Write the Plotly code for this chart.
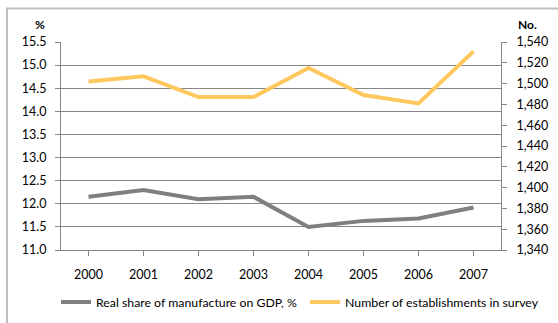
import plotly.graph_objects as go

years = ["2000", "2001", "2002", "2003", "2004", "2005", "2006", "2007"]
share_pct = [12.15, 12.30, 12.10, 12.15, 11.50, 11.63, 11.68, 11.92]
establishments = [1502, 1507, 1487, 1487, 1515, 1489, 1481, 1531]
left_ticks = [11.0, 11.5, 12.0, 12.5, 13.0, 13.5, 14.0, 14.5, 15.0, 15.5]
right_ticks = list(range(1340, 1541, 20))

FONT = "Lato"
W, H = 558, 323
L, R, T, B = 61, 57, 42, 73
pw, ph = W - L - R, H - T - B

fig = go.Figure()
fig.add_trace(go.Scatter(
    x=years, y=share_pct, mode="lines", name="Real share of manufacture on GDP, %",
    line=dict(color="#7f7f7f", width=4), yaxis="y", legend="legend"))
fig.add_trace(go.Scatter(
    x=years, y=establishments, mode="lines", name="Number of establishments in survey",
    line=dict(color="#ffc85f", width=4), yaxis="y2", legend="legend2"))

leg_common = dict(orientation="h", yanchor="middle", y=(H - B - 302) / ph,
                  font=dict(family=FONT, size=12.3, color="#000"),
                  bgcolor="rgba(0,0,0,0)", itemwidth=30)

fig.update_layout(
    width=W, height=H,
    margin=dict(l=L, r=R, t=T, b=B, pad=0, autoexpand=False),
    paper_bgcolor="white", plot_bgcolor="white",
    font=dict(family=FONT, size=12, color="#000000"),
    showlegend=True,
    legend=dict(x=(56 - L) / pw, xanchor="left", **leg_common),
    legend2=dict(x=(305 - L) / pw, xanchor="left", **leg_common),
    xaxis=dict(type="category", range=[-0.5, 7.5], showgrid=False,
               showline=True, linecolor="#868686", linewidth=1,
               ticks="outside", ticklen=5, tickcolor="#868686",
               tickfont=dict(family=FONT, size=12.5), ticklabelstandoff=8),
    yaxis=dict(range=[11.0, 15.5], tickvals=left_ticks, tickformat=".1f",
               showgrid=True, gridcolor="#868686", gridwidth=1,
               showline=True, linecolor="#868686", linewidth=1,
               ticks="outside", ticklen=5, tickcolor="#868686",
               tickfont=dict(family=FONT, size=12.5), zeroline=False,
               ticklabelstandoff=6),
    yaxis2=dict(range=[1340, 1540], tickvals=right_ticks, tickformat=",",
                overlaying="y", side="right", showgrid=False,
                showline=True, linecolor="#868686", linewidth=1,
                ticks="outside", ticklen=5, tickcolor="#868686",
                tickfont=dict(family=FONT, size=12.5), zeroline=False,
                ticklabelstandoff=7),
)

fig.add_annotation(text="<b>%</b>", xref="paper", yref="paper",
                   x=(40 - L) / pw, y=(H - B - 24) / ph, showarrow=False,
                   xanchor="center", yanchor="middle",
                   font=dict(family=FONT, size=12))
fig.add_annotation(text="<b>No.</b>", xref="paper", yref="paper",
                   x=(516 - L) / pw, y=(H - B - 24) / ph, showarrow=False,
                   xanchor="left", yanchor="middle",
                   font=dict(family=FONT, size=12))

fig.add_shape(type="rect", xref="paper", yref="paper",
              x0=(7 - L) / pw, x1=3, y0=-3, y1=(H - B - 8.5) / ph,
              line=dict(color="#bfbfbf", width=2), layer="below")

fig.write_html("out.html", config={"displayModeBar": False},
               post_script="document.body.style.margin='0';document.body.style.overflow='hidden';")
